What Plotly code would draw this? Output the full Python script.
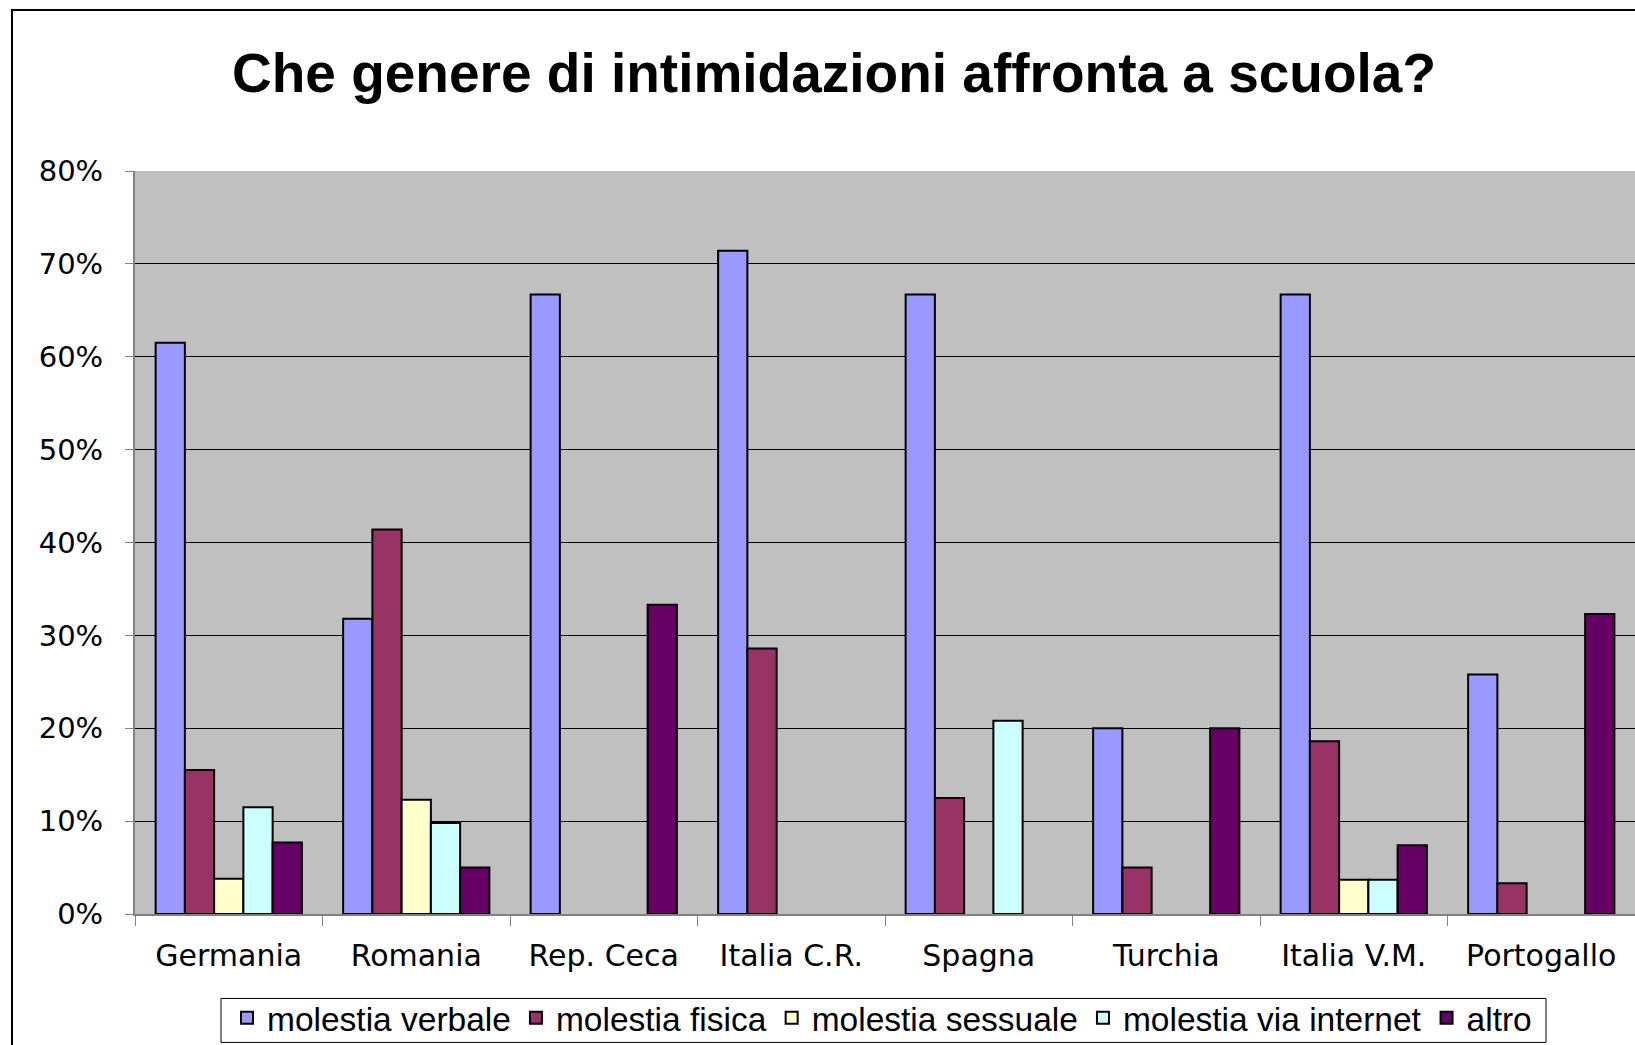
import plotly.graph_objects as go

categories = ["Germania", "Romania", "Rep. Ceca", "Italia C.R.", "Spagna", "Turchia", "Italia V.M.", "Portogallo"]
molestia_verbale = [61.5, 31.8, 66.7, 71.4, 66.7, 20.0, 66.7, 25.8]
molestia_fisica = [15.5, 41.4, None, 28.6, 12.5, 5.0, 18.6, 3.3]
molestia_sessuale = [3.8, 12.3, None, None, None, None, 3.7, None]
molestia_internet = [11.5, 9.8, None, None, 20.8, None, 3.7, None]
altro = [7.7, 5.0, 33.3, None, None, 20.0, 7.4, 32.3]

series_names = ["molestia verbale", "molestia fisica", "molestia sessuale", "molestia via internet", "altro"]
series_values = [molestia_verbale, molestia_fisica, molestia_sessuale, molestia_internet, altro]
series_colors = ["#9999FF", "#993366", "#FFFFCC", "#CCFFFF", "#660066"]
y_tick_vals = [0, 10, 20, 30, 40, 50, 60, 70, 80]
y_tick_text = ["0%", "10%", "20%", "30%", "40%", "50%", "60%", "70%", "80%"]

fig = go.Figure()
for name, vals, col in zip(series_names, series_values, series_colors):
    fig.add_trace(go.Bar(
        x=categories, y=vals, name=name,
        marker=dict(color=col, line=dict(color="#000000", width=2)),
    ))

W, H = 1635, 1045
plot_left, plot_top, plot_bottom = 135, 171, 914.5
L, R, T, B = plot_left, 0, plot_top, H - plot_bottom
PW, PH = W - L - R, plot_bottom - plot_top


def px_x(px):
    return (px - L) / PW


def px_y(py):
    return (plot_bottom - py) / PH


fig.update_layout(
    width=W, height=H,
    margin=dict(l=L, r=R, t=T, b=B, autoexpand=False),
    paper_bgcolor="#FFFFFF",
    plot_bgcolor="#C0C0C0",
    barmode="group",
    bargap=0.22,
    bargroupgap=0,
    title=dict(
        text="<b>Che genere di intimidazioni affronta a scuola?</b>",
        x=834 / W, xref="container", xanchor="center",
        y=1 - 73 / H, yref="container", yanchor="middle",
        font=dict(family="Liberation Sans, Arial, sans-serif", size=55, color="#000000"),
    ),
    font=dict(family="DejaVu Sans, sans-serif", size=29, color="#000000"),
    showlegend=True,
    legend=dict(
        orientation="h",
        x=px_x(882), xanchor="center",
        y=px_y(990), yanchor="top",
        bgcolor="rgba(0,0,0,0)",
        borderwidth=0,
        font=dict(family="Liberation Sans, Arial, sans-serif", size=33.5, color="#000000"),
        traceorder="normal",
    ),
    xaxis=dict(
        type="category",
        showgrid=False,
        showline=True, linecolor="#808080", linewidth=2,
        ticks="outside", tickson="boundaries", ticklen=10, tickcolor="#808080", tickwidth=1,
        ticklabelstandoff=14,
        tickfont=dict(family="DejaVu Sans, sans-serif", size=30, color="#000000"),
    ),
    yaxis=dict(
        range=[0, 80],
        tickmode="array",
        tickvals=y_tick_vals,
        ticktext=y_tick_text,
        showgrid=True, gridcolor="#000000", gridwidth=1,
        showline=True, linecolor="#808080", linewidth=2,
        ticks="outside", ticklen=8, tickcolor="#808080", tickwidth=1,
        ticklabelstandoff=16,
        zeroline=False,
        tickfont=dict(family="DejaVu Sans, sans-serif", size=29, color="#000000"),
    ),
    shapes=[
        dict(
            type="rect", xref="paper", yref="paper",
            x0=px_x(12), x1=px_x(1700),
            y0=px_y(1100), y1=px_y(10),
            line=dict(color="#000000", width=2), fillcolor="rgba(0,0,0,0)", layer="below",
        ),
        dict(
            type="rect", xref="paper", yref="paper",
            x0=px_x(221), x1=px_x(1546),
            y0=px_y(1043), y1=px_y(999),
            line=dict(color="#000000", width=1), fillcolor="#FFFFFF", layer="above",
        ),
    ],
)

fig.write_html(
    "out.html",
    config={"displayModeBar": False},
    post_script="document.body.style.margin='0';document.body.style.overflow='hidden';",
)
